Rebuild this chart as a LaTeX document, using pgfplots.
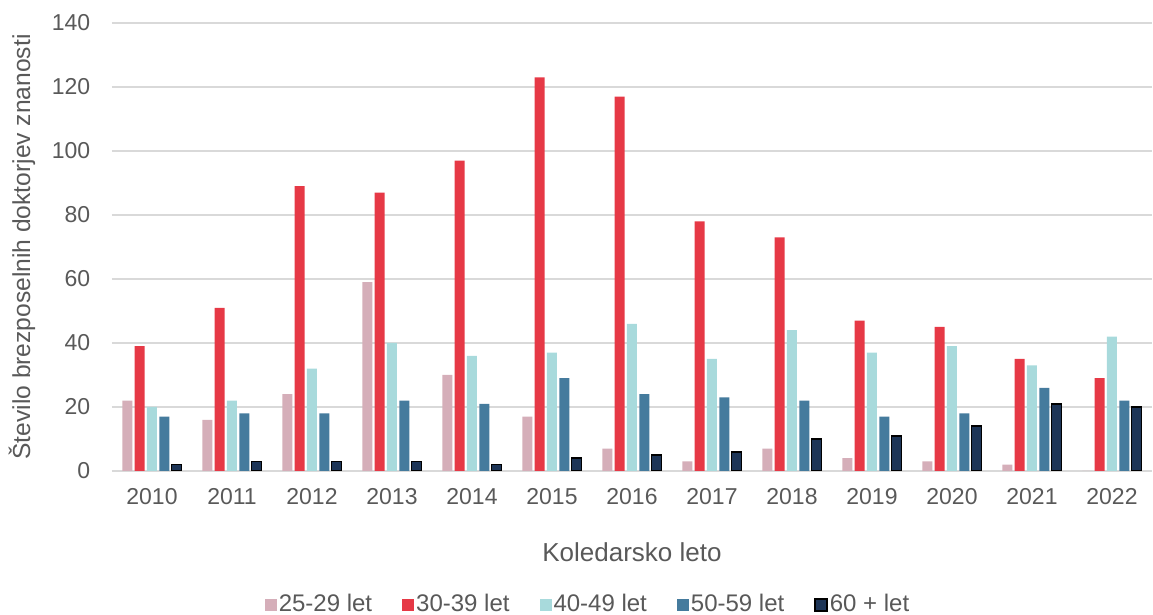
\documentclass[border=0pt]{standalone}
\usepackage{pgfplots}
\usepackage{pgfplotstable}
\pgfplotsset{compat=1.18}
\usepackage{fontspec}
\setmainfont{Liberation Sans}
\definecolor{cPink}{HTML}{D5AEB9}
\definecolor{cRed}{HTML}{E63946}
\definecolor{cCyan}{HTML}{A8DADC}
\definecolor{cBlue}{HTML}{457B9D}
\definecolor{cNavy}{HTML}{1D3557}
\definecolor{txt}{HTML}{595959}
\definecolor{grid}{HTML}{D9D9D9}
\pgfplotstableread{
x a b c d e
0 22 39 20 17 2
1 16 51 22 18 3
2 24 89 32 18 3
3 59 87 40 22 3
4 30 97 36 21 2
5 17 123 37 29 4
6 7 117 46 24 5
7 3 78 35 23 6
8 7 73 44 22 10
9 4 47 37 17 11
10 3 45 39 18 14
11 2 35 33 26 21
12 0 29 42 22 20
}\datatable
\begin{document}
\fontsize{23}{27}\selectfont
\begin{tikzpicture}
\useasboundingbox (0,0) rectangle (1153pt,615pt);
\begin{axis}[
  at={(112pt,144pt)}, anchor=south west,
  scale only axis, width=1040pt, height=448pt,
  xmin=-0.5, xmax=12.5, ymin=0, ymax=140,
  ytick={0,20,...,140},
  xtick=data,
  xticklabels={2010,2011,2012,2013,2014,2015,2016,2017,2018,2019,2020,2021,2022},
  ybar=2.3pt, bar width=10pt,
  major tick length=0pt,
  axis lines*=left,
  y axis line style={draw=none},
  x axis line style={draw=grid, line width=1.5pt, -},
  ymajorgrids, grid style={draw=grid, line width=1.5pt},
  tick label style={font=\fontsize{23}{27}\selectfont, text=txt},
  /pgf/number format/assume math mode=true,
  xticklabel style={yshift=-10pt},
  yticklabel style={xshift=-14pt},
  xlabel={Koledarsko leto},
  ylabel={Število brezposelnih doktorjev znanosti},
  every axis x label/.style={at={(axis description cs:0.5,-0.181)}, anchor=center,
    font=\fontsize{26}{30}\selectfont, text=txt},
  every axis y label/.style={at={(axis description cs:-0.0865,0.5)}, rotate=90, anchor=center,
    font=\fontsize{24.6}{29}\selectfont, text=txt},
  legend style={at={(axis description cs:0.4577,-0.299)}, anchor=center, draw=none,
    font=\fontsize{24}{28}\selectfont, text=txt, legend columns=5,
    /tikz/every even column/.append style={column sep=28pt},
    legend cell align=left},
  legend image code/.code={\path[#1] (0pt,-6pt) rectangle (12pt,6pt);},
]
\addplot[fill=cPink, draw=none] table[x=x,y=a]{\datatable};
\addplot[fill=cRed, draw=none] table[x=x,y=b]{\datatable};
\addplot[fill=cCyan, draw=none] table[x=x,y=c]{\datatable};
\addplot[fill=cBlue, draw=none] table[x=x,y=d]{\datatable};
\addplot[fill=cNavy, draw=black, line width=1.5pt] table[x=x,y=e]{\datatable};
\legend{25-29 let,30-39 let,40-49 let,50-59 let,60 + let}
\end{axis}
\end{tikzpicture}
\end{document}
